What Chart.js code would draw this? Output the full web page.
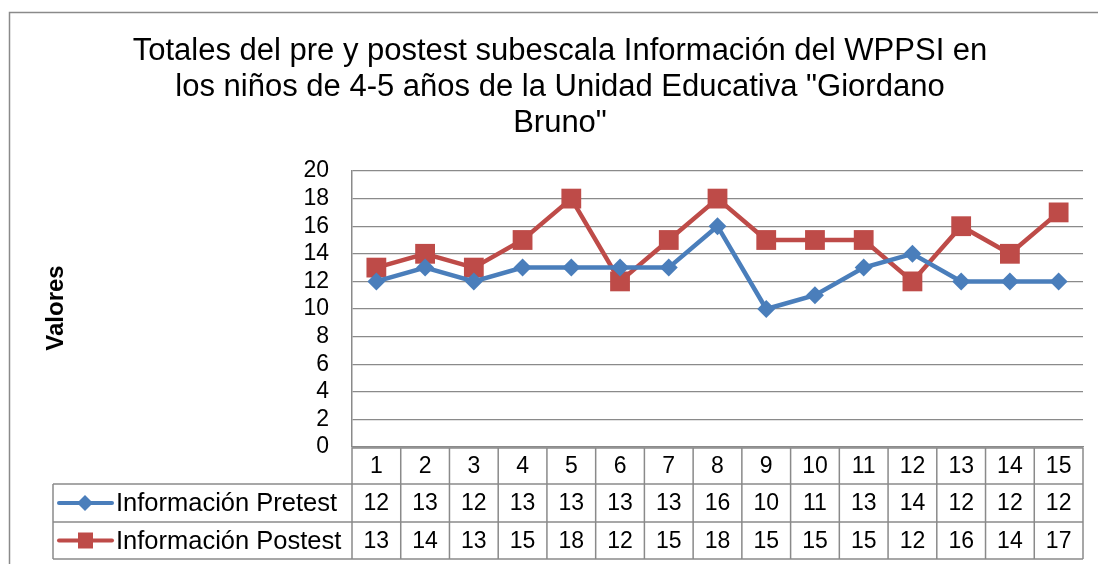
<!DOCTYPE html>
<html>
<head>
<meta charset="utf-8">
<script src="https://cdn.jsdelivr.net/npm/chart.js@4"></script>
<style>
  html, body { margin: 0; padding: 0; background: #fff; }
  #wrap { width: 1098px; height: 564px; position: relative; }
</style>
</head>
<body>
<div id="wrap"><canvas id="grafica"></canvas></div>
<script>
// Datos
const categorias = ['1','2','3','4','5','6','7','8','9','10','11','12','13','14','15'];
const pretest = [12, 13, 12, 13, 13, 13, 13, 16, 10, 11, 13, 14, 12, 12, 12];
const postest = [13, 14, 13, 15, 18, 12, 15, 18, 15, 15, 15, 12, 16, 14, 17];
const ticksY = [0, 2, 4, 6, 8, 10, 12, 14, 16, 18, 20];
const titulo = [
  'Totales del pre y postest subescala Información del WPPSI en',
  'los niños de 4-5 años de la Unidad Educativa "Giordano',
  'Bruno"'
];
const nombres = ['Información Pretest', 'Información Postest'];

const AZUL = '#4a7ebb';
const ROJO = '#be4b48';
const GRIS = '#8a8a8a';
const FUENTE = '"Liberation Sans", Arial, sans-serif';

// Marco, título, etiqueta del eje y tabla de datos
const decoracion = {
  id: 'decoracion',
  beforeDraw(chart) {
    const ctx = chart.ctx;
    ctx.save();
    ctx.strokeStyle = GRIS;
    ctx.lineWidth = 1.5;
    ctx.strokeRect(9.5, 12.5, 1100, 600);
    ctx.restore();
  },
  afterDraw(chart) {
    const ctx = chart.ctx;
    const x = chart.scales.x;
    const area = chart.chartArea;
    ctx.save();

    // Título
    ctx.fillStyle = '#000';
    ctx.font = '31px ' + FUENTE;
    ctx.textAlign = 'center';
    ctx.textBaseline = 'alphabetic';
    titulo.forEach((t, i) => ctx.fillText(t, 560, 60 + i * 36));

    // Eje Y
    ctx.save();
    ctx.translate(63, 308);
    ctx.rotate(-Math.PI / 2);
    ctx.font = 'bold 24px ' + FUENTE;
    ctx.fillText('Valores', 0, 0);
    ctx.restore();

    // Tabla
    const filas = [448, 484, 522, 559];
    const ancho = (area.right - area.left) / categorias.length;
    ctx.strokeStyle = GRIS;
    ctx.lineWidth = 1.5;
    ctx.beginPath();
    ctx.moveTo(area.left, filas[0]); ctx.lineTo(area.right, filas[0]);
    for (let r = 1; r < 4; r++) { ctx.moveTo(53, filas[r]); ctx.lineTo(area.right, filas[r]); }
    for (let i = 0; i <= categorias.length; i++) {
      const px = area.left + i * ancho;
      ctx.moveTo(px, filas[0]); ctx.lineTo(px, filas[3]);
    }
    ctx.moveTo(53, filas[1]); ctx.lineTo(53, filas[3]);
    ctx.stroke();

    ctx.font = '23px ' + FUENTE;
    ctx.fillStyle = '#000';
    ctx.textAlign = 'center';
    ctx.textBaseline = 'middle';
    const centros = [(filas[0] + filas[1]) / 2 + 1, (filas[1] + filas[2]) / 2 + 1, (filas[2] + filas[3]) / 2 + 1];
    categorias.forEach((c, i) => {
      const px = x.getPixelForValue(i);
      ctx.fillText(c, px, centros[0]);
      ctx.fillText(String(pretest[i]), px, centros[1]);
      ctx.fillText(String(postest[i]), px, centros[2]);
    });

    // Claves de leyenda
    [AZUL, ROJO].forEach((col, k) => {
      const cy = centros[k + 1] - 1;
      ctx.strokeStyle = col;
      ctx.lineWidth = 4;
      ctx.lineCap = 'round';
      ctx.beginPath();
      ctx.moveTo(59, cy); ctx.lineTo(112, cy);
      ctx.stroke();
      ctx.fillStyle = col;
      ctx.beginPath();
      if (k === 0) {
        ctx.moveTo(85, cy - 8); ctx.lineTo(93, cy); ctx.lineTo(85, cy + 8); ctx.lineTo(77, cy);
      } else {
        ctx.rect(78, cy - 8, 15, 16);
      }
      ctx.fill();
      ctx.fillStyle = '#000';
      ctx.textAlign = 'left';
      ctx.font = '25.5px ' + FUENTE;
      ctx.fillText(nombres[k], 116, centros[k + 1]);
    });
    ctx.restore();
  }
};

new Chart(document.getElementById('grafica'), {
  type: 'line',
  data: {
    labels: categorias,
    datasets: [
      {
        label: nombres[0], data: pretest,
        borderColor: AZUL, backgroundColor: AZUL,
        borderWidth: 4.5, pointStyle: 'rectRot', pointRadius: 9,
        pointBorderWidth: 0, tension: 0
      },
      {
        label: nombres[1], data: postest,
        borderColor: ROJO, backgroundColor: ROJO,
        borderWidth: 4.5, pointStyle: 'rect', pointRadius: 14,
        pointBorderWidth: 0, tension: 0
      }
    ]
  },
  options: {
    responsive: true,
    maintainAspectRatio: false,
    animation: false,
    layout: { padding: { top: 171, right: 15, left: 0, bottom: 0 } },
    plugins: { legend: { display: false }, title: { display: false }, tooltip: { enabled: false } },
    scales: {
      x: {
        offset: true,
        grid: { display: false, drawTicks: false },
        border: { display: true, color: GRIS, width: 1.5 },
        ticks: { display: false },
        afterFit(s) { s.height = 117; }
      },
      y: {
        min: 0, max: 20,
        afterBuildTicks(s) { s.ticks = ticksY.map(v => ({ value: v })); },
        grid: { color: GRIS, lineWidth: 1.3, drawTicks: false },
        border: { display: true, color: GRIS, width: 1.5 },
        ticks: { color: '#000', font: { family: FUENTE, size: 23 }, padding: 23, autoSkip: false },
        afterFit(s) { s.width = 352; }
      }
    }
  },
  plugins: [decoracion]
});
</script>
</body>
</html>
